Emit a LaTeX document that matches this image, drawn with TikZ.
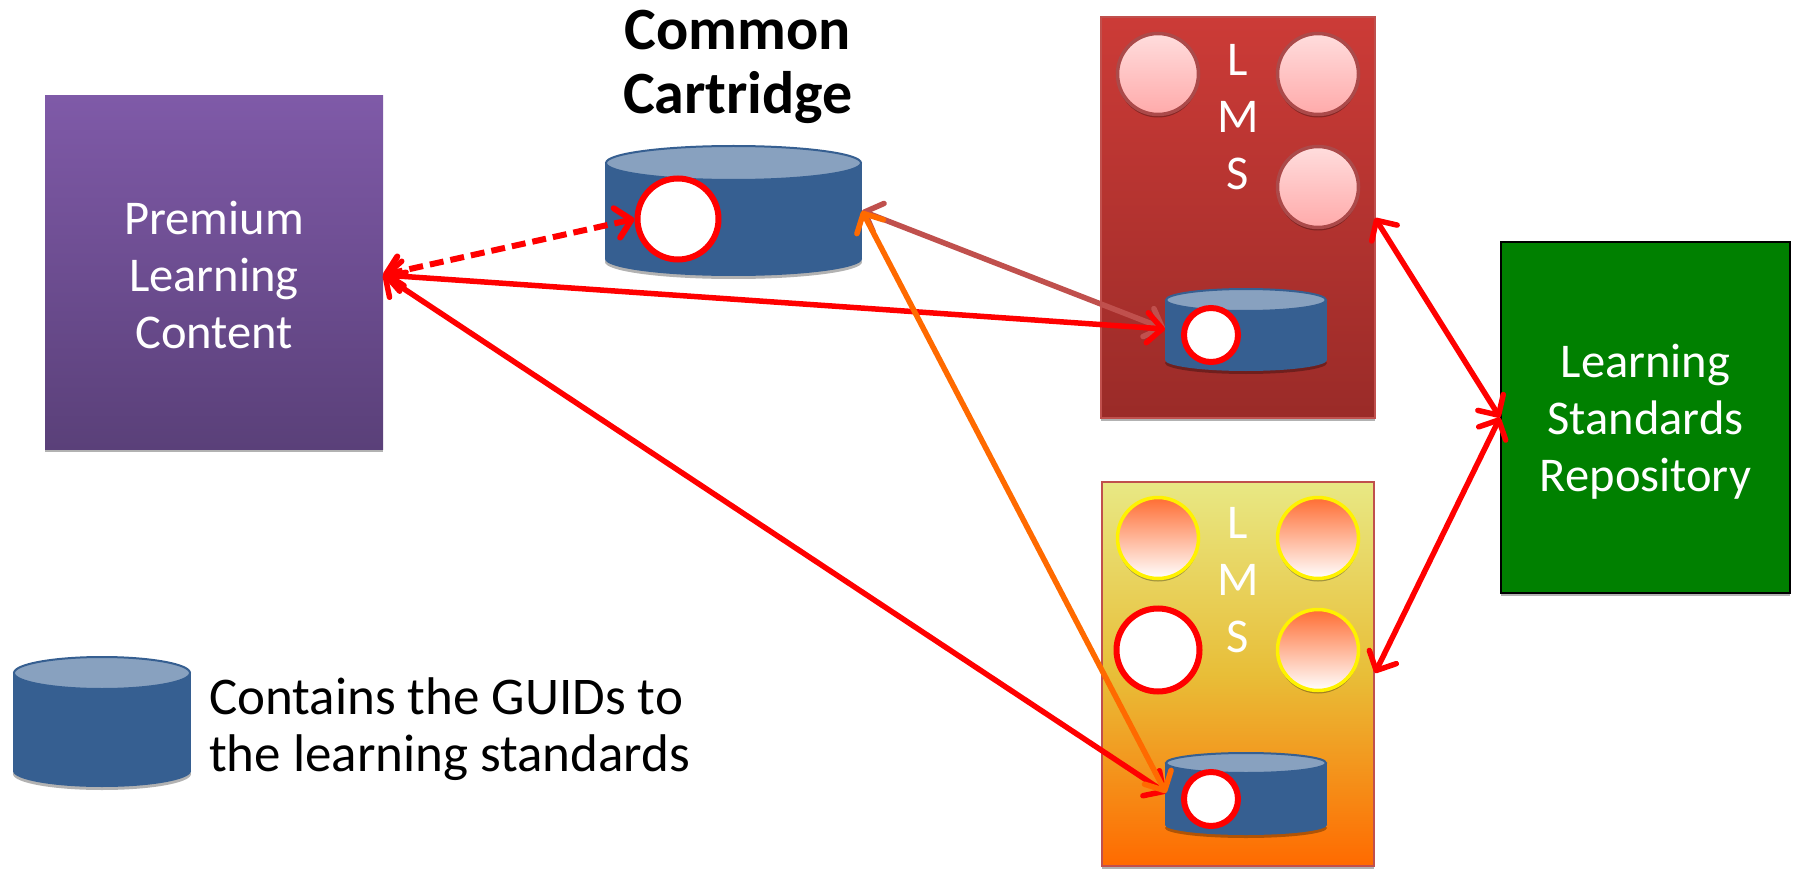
\documentclass[tikz,border=0pt]{standalone}
\usepackage{fontspec}
\setmainfont{Carlito}
\usetikzlibrary{arrows.meta,shapes.geometric,shadows}
\definecolor{cartblue}{HTML}{365F91}
\definecolor{cartend}{HTML}{88A1BF}
\definecolor{plctop}{HTML}{7F5AA8}
\definecolor{plcbot}{HTML}{5A4079}
\definecolor{lsrgreen}{HTML}{008000}
\definecolor{rusty}{HTML}{C0504D}
\definecolor{lmstop}{HTML}{CC3B37}
\definecolor{lmsbot}{HTML}{9A2B28}
\definecolor{sandtop}{HTML}{E8E884}
\definecolor{sandmid}{HTML}{E8BE38}
\definecolor{deeporange}{HTML}{FF6A00}
\definecolor{pinktop}{HTML}{FFDDDD}
\definecolor{pinkbot}{HTML}{FFAAAA}
\definecolor{pinkline}{HTML}{AB4A4A}
\definecolor{fadetop}{HTML}{FF6D33}
\tikzset{
	softshadow/.style={drop shadow={shadow xshift=0pt,shadow yshift=-3pt,opacity=.3,fill=black}},
	guid/.style={circle,draw=red,fill=white,line width=6pt,inner sep=0pt},
	pinkdot/.style={circle,minimum size=81pt,inner sep=0pt,draw=pinkline,line width=3.5pt,top color=pinktop,bottom color=pinkbot,softshadow},
	fadedot/.style={circle,minimum size=81pt,inner sep=0pt,draw=yellow,line width=3.5pt,top color=fadetop,bottom color=white,softshadow},
	conn/.style={line width=5.5pt,red,{Straight Barb[length=15pt,width=30pt,round]}-{Straight Barb[length=15pt,width=30pt,round]}},
	bigtext/.style={text=white,font=\fontsize{48.5}{57}\selectfont,align=center,inner sep=0pt},
}
% #1 centre x, #2 half width, #3 y of top rim, #4 y of bottom rim, #5 rim radius
\newcommand{\cartshape}[5]{
	\fill[cartblue,softshadow] (#1,#4) ellipse [x radius=#2,y radius=#5];
	\fill[cartblue] (#1-#2,#3) rectangle (#1+#2,#4);
	\filldraw[fill=cartend,draw=cartblue,line width=2pt] (#1,#3) ellipse [x radius=#2-1,y radius=#5];
}
\begin{document}
\begin{tikzpicture}[x=1pt,y=-1pt]
	\useasboundingbox (0,0) rectangle (1797,869);
	\node[minimum width=338pt,minimum height=353pt,inner sep=0pt,softshadow,top color=plctop,bottom color=plcbot] (plc) at (214,272.5) {};
	\node[bigtext] (plctext) at (214,275) {Premium\\Learning\\Content};
	\node[minimum width=289pt,minimum height=351pt,inner sep=0pt,draw=black,line width=2pt,fill=lsrgreen,softshadow] (lsr) at (1645.5,417.5) {};
	\node[bigtext] (lsrtext) at (1645.5,421.5) {Learning\\Standards\\Repository};
	\node[font=\fontsize{60}{64}\bfseries\selectfont,align=center,inner sep=0pt] (cctitle) at (738,67) {Common\\Cartridge};
	% first LMS
	\node[minimum width=274pt,minimum height=401pt,inner sep=0pt,draw=rusty,line width=2pt,softshadow,top color=lmstop,bottom color=lmsbot] (lmsa) at (1238,217.5) {};
	\node[bigtext] (lmsatext) at (1238,117) {L\\M\\S};
	\node[pinkdot] (a1) at (1158,74) {};
	\node[pinkdot] (a2) at (1318,74) {};
	\node[pinkdot] (a3) at (1318,187) {};
	\cartshape{1246}{81}{300}{360}{11}
	\node[guid,minimum size=54pt] (guida) at (1211,335) {};
	% second LMS
	\node[minimum width=272pt,minimum height=384pt,inner sep=0pt,draw=rusty,line width=2pt,softshadow,top color=sandtop,bottom color=deeporange,middle color=sandmid] (lmsb) at (1238,674) {};
	\node[bigtext] (lmsbtext) at (1238,580) {L\\M\\S};
	\node[fadedot] (b1) at (1158,538) {};
	\node[fadedot] (b2) at (1318,538) {};
	\node[guid,minimum size=83pt] (b3) at (1158,650) {};
	\node[fadedot] (b4) at (1318,650) {};
	\cartshape{1246}{81}{763}{825}{10}
	\node[guid,minimum size=54pt] (guidb) at (1211,799) {};
	% common cartridge
	\cartshape{733.5}{128.5}{163}{259}{17}
	\node[guid,minimum size=81pt] (ccguid) at (678,219) {};
	% legend
	\cartshape{102}{89}{673}{771}{16}
	\node[font=\fontsize{53}{57}\selectfont,align=left,inner sep=0pt,anchor=west] (legend) at (209,729) {Contains the GUIDs to\\the learning standards};
	% connectors
	\coordinate (plcport) at (383,275);
	\coordinate (ccport) at (862,211);
	\coordinate (cartaport) at (1165,329);
	\coordinate (cartbport) at (1166,793);
	\coordinate (lmsaport) at (1375,218);
	\coordinate (lmsbport) at (1375,673);
	\draw[conn,rusty] (ccport)--(cartaport);
	\draw[conn,line width=6pt,dash pattern=on 14pt off 7pt] (plcport)--(ccguid.west);
	\draw[conn] (plcport)--(cartaport);
	\draw[conn] (plcport)--(cartbport);
	\draw[conn,deeporange] (ccport)--(cartbport);
	\draw[conn] (lmsaport)--(lsr.west);
	\draw[conn] (lmsbport)--(lsr.west);
\end{tikzpicture}
\end{document}
